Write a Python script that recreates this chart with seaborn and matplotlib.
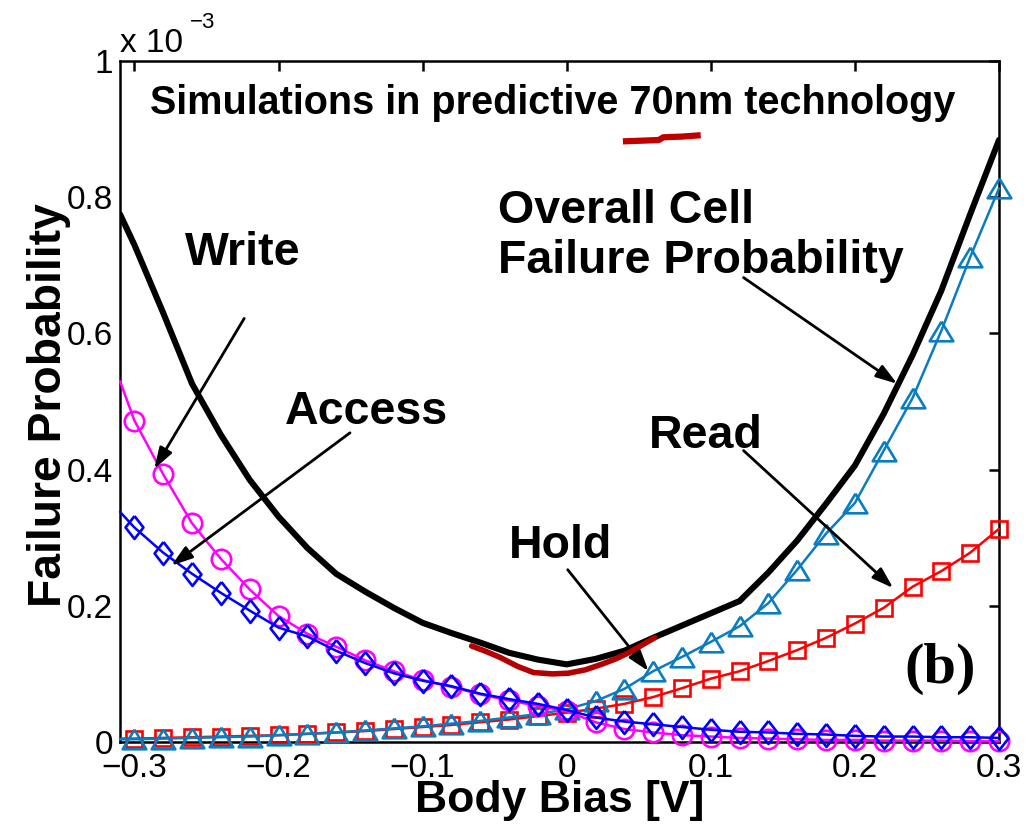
import matplotlib
matplotlib.use("Agg")
import matplotlib.pyplot as plt
import seaborn as sns
from matplotlib.ticker import FixedLocator, FuncFormatter

# Body bias sweep [V]; the first point only carries the curves to the left frame
body_bias = [-0.31, -0.30, -0.28, -0.26, -0.24, -0.22, -0.20, -0.18, -0.16, -0.14,
             -0.12, -0.10, -0.08, -0.06, -0.04, -0.02, 0.00, 0.02, 0.04, 0.06,
             0.08, 0.10, 0.12, 0.14, 0.16, 0.18, 0.20, 0.22, 0.24, 0.26, 0.28, 0.30]

# Failure probabilities, in units of 1e-3
write_fail = [0.530, 0.472, 0.393, 0.321, 0.269, 0.224, 0.185, 0.159, 0.140, 0.120,
              0.104, 0.091, 0.081, 0.070, 0.061, 0.053, 0.045, 0.029, 0.019, 0.014,
              0.010, 0.008, 0.006, 0.005, 0.004, 0.003, 0.003, 0.002, 0.002, 0.002,
              0.001, 0.001]
access_fail = [0.338, 0.315, 0.278, 0.247, 0.219, 0.193, 0.168, 0.155, 0.134, 0.116,
               0.101, 0.090, 0.082, 0.071, 0.063, 0.056, 0.047, 0.036, 0.030, 0.026,
               0.022, 0.018, 0.015, 0.014, 0.012, 0.011, 0.009, 0.008, 0.008, 0.007,
               0.007, 0.006]
read_fail = [0.005, 0.005, 0.006, 0.007, 0.008, 0.009, 0.010, 0.012, 0.014, 0.016,
             0.019, 0.022, 0.025, 0.029, 0.033, 0.038, 0.043, 0.049, 0.056, 0.066,
             0.079, 0.093, 0.104, 0.119, 0.135, 0.153, 0.174, 0.197, 0.228, 0.251,
             0.278, 0.313]
hold_fail = [0.004, 0.004, 0.005, 0.006, 0.007, 0.008, 0.010, 0.012, 0.014, 0.017,
             0.020, 0.023, 0.027, 0.031, 0.036, 0.041, 0.048, 0.060, 0.078, 0.104,
             0.125, 0.147, 0.170, 0.204, 0.253, 0.306, 0.351, 0.428, 0.505, 0.604,
             0.712, 0.813]
overall_fail = [0.775, 0.730, 0.630, 0.526, 0.451, 0.385, 0.331, 0.285, 0.247, 0.221,
                0.197, 0.175, 0.160, 0.146, 0.131, 0.121, 0.114, 0.122, 0.134, 0.153,
                0.171, 0.189, 0.207, 0.249, 0.296, 0.350, 0.406, 0.482, 0.568, 0.663,
                0.775, 0.884]

x_ticks = [-0.3, -0.2, -0.1, 0, 0.1, 0.2, 0.3]
y_ticks = [0, 0.2, 0.4, 0.6, 0.8, 1]

# Hand-drawn red marks: the stroke under "70nm" and the one around the minimum
underline_x = [0.039, 0.052, 0.064, 0.067, 0.080, 0.093]
underline_y = [0.882, 0.883, 0.884, 0.888, 0.889, 0.891]
minimum_mark_x = [-0.066, -0.056, -0.046, -0.034, -0.023, -0.010, 0.001, 0.013, 0.024, 0.034, 0.043, 0.052, 0.061]
minimum_mark_y = [0.141, 0.133, 0.124, 0.111, 0.102, 0.100, 0.101, 0.106, 0.114, 0.122, 0.131, 0.142, 0.153]

sns.set_theme(style="white")
plt.rcParams["font.family"] = ["Liberation Sans", "DejaVu Sans"]
plt.rcParams["axes.unicode_minus"] = True
for key in ("text.color", "axes.labelcolor", "xtick.color", "ytick.color", "axes.edgecolor"):
    plt.rcParams[key] = "black"

fig = plt.figure(figsize=(10.3, 8.25), dpi=100)
ax = fig.add_axes([120 / 1030, 1 - 742 / 825, 879 / 1030, 681 / 825])
ax.set_facecolor("white")

diamond = [(0, 1), (0.78, 0), (0, -1), (-0.78, 0), (0, 1)]
triangle = [(0, 0.83), (1, -0.83), (-1, -0.83), (0, 0.83)]


def series(values, color, marker, size, z):
    sns.lineplot(x=body_bias, y=values, ax=ax, color=color, linewidth=1.8,
                 marker=marker, markersize=size, markerfacecolor="none",
                 markeredgecolor=color, markeredgewidth=1.9, markevery=(1, 1),
                 clip_on=False, zorder=z, estimator=None, sort=False)


series(read_fail, "#ff0000", "s", 11.5, 3)
series(hold_fail, "#0a7cc0", triangle, 17, 4)
series(write_fail, "#ff00ff", "o", 14, 5)
series(access_fail, "#0000ff", diamond, 16.5, 6)
sns.lineplot(x=body_bias, y=overall_fail, ax=ax, color="black", linewidth=4.4,
             zorder=7, estimator=None, sort=False)

ax.plot(minimum_mark_x, minimum_mark_y, color="#b40000", lw=4.0,
        solid_capstyle="round", solid_joinstyle="round", zorder=9)
ax.plot(underline_x, underline_y, color="#c00000", lw=4.5,
        solid_capstyle="butt", zorder=9)

ax.set_xlim(-0.31, 0.3)
ax.set_ylim(0, 1)
ax.xaxis.set_major_locator(FixedLocator(x_ticks))
ax.yaxis.set_major_locator(FixedLocator(y_ticks))
fmt = FuncFormatter(lambda v, p: ("%g" % round(v, 3)).replace("-", "\u2212") if abs(v) > 1e-9 else "0")
ax.xaxis.set_major_formatter(fmt)
ax.yaxis.set_major_formatter(fmt)
ax.tick_params(direction="in", length=7, width=1.8, top=True, right=True,
               labelsize=24, colors="black")
ax.tick_params(axis="x", pad=8)
ax.tick_params(axis="y", pad=5)
for s in ax.spines.values():
    s.set_visible(True)
    s.set_color("black")
    s.set_linewidth(1.8)
ax.grid(False)

ax.set_xlabel("Body Bias [V]", fontsize=32, fontweight="bold", va="baseline")
ax.set_ylabel("Failure Probability", fontsize=33.3, fontweight="bold", va="center")
ax.xaxis.set_label_coords(0.5, -0.1035)
ax.yaxis.set_label_coords(-0.0808, 0.495)

# Exponent of the y axis
fig.text(120 / 1030, 1 - 52 / 825, "x 10", fontsize=24, ha="left", va="baseline")
fig.text(190 / 1030, 1 - 28 / 825, "\u22123", fontsize=16, ha="left", va="baseline")

ax.text(-0.0097, 0.938, "Simulations in predictive 70nm technology", fontsize=28.5,
        fontweight="bold", ha="center", va="center")

label_kw = dict(fontsize=33.5, fontweight="bold", color="black", zorder=10)
ax.text(-0.2245, 0.718, "Write", ha="center", va="center", **label_kw)
ax.text(-0.1393, 0.484, "Access", ha="center", va="center", **label_kw)
ax.text(-0.0042, 0.288, "Hold", ha="center", va="center", **label_kw)
ax.text(0.0963, 0.450, "Read", ha="center", va="center", **label_kw)
ax.text(-0.0478, 0.743, "Overall Cell\nFailure Probability", ha="left", va="center",
        linespacing=1.2, **label_kw)
ax.text(0.259, 0.107, "(b)", fontsize=42, fontweight="bold", ha="center", va="center",
        family=["Liberation Serif", "DejaVu Serif"])

arrow_kw = dict(arrowstyle="-|>,head_length=0.8,head_width=0.26", color="black",
                lw=2.0, shrinkA=0, shrinkB=0, mutation_scale=16)
arrows = [((-0.2238, 0.622), (-0.2862, 0.401)),
          ((-0.1504, 0.454), (-0.2744, 0.259)),
          ((0.0007, 0.253), (0.0568, 0.104)),
          ((0.1227, 0.428), (0.2266, 0.226)),
          ((0.1227, 0.682), (0.2294, 0.526))]
for start, tip in arrows:
    ax.annotate("", xy=tip, xytext=start, arrowprops=arrow_kw, zorder=8)

fig.savefig("out.png", dpi=100, facecolor="white")
